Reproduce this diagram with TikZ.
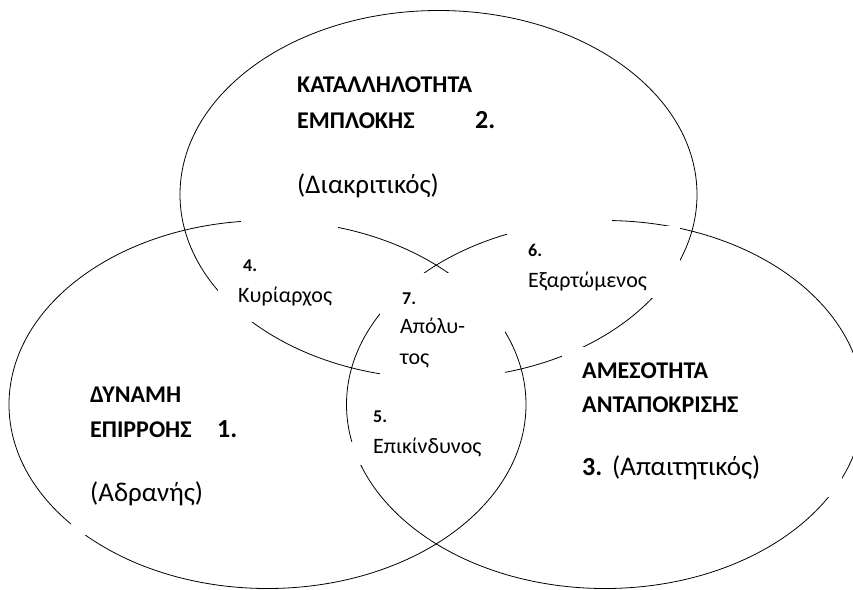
\documentclass[tikz,border=0pt]{standalone}
\usepackage{fontspec}
\setmainfont{Carlito}
\usepackage{tikz}
\usetikzlibrary{shapes}
\tikzstyle{every set}=[draw, ellipse, inner sep=0pt, minimum width=517pt, minimum height=368pt, line width=0.8pt]
\tikzstyle{title}=[anchor=base west, inner sep=0pt, font=\fontsize{24}{28}\selectfont\bfseries]
\tikzstyle{number}=[anchor=base west, inner sep=0pt, font=\fontsize{26}{30}\selectfont\bfseries]
\tikzstyle{paren}=[anchor=base west, inner sep=0pt, font=\fontsize{27}{32}\selectfont]
\tikzstyle{tag}=[anchor=base west, inner sep=0pt, font=\fontsize{18}{22}\selectfont\bfseries]
\tikzstyle{word}=[anchor=base west, inner sep=0pt, font=\fontsize{22}{26}\selectfont]
\tikzstyle{mask}=[fill=white, align=left, inner ysep=0pt]

\begin{document}
\begin{tikzpicture}[x=1pt, y=-1pt]
      \useasboundingbox (0,0) rectangle (853,589);

      \node[every set] (topSet) at (438.5,194.5) {};
      \node[every set] (leftSet) at (267.5,404.5) {};
      \node[every set] (rightSet) at (605,404.5) {};

      % set 2
      \node[title] (topName1) at (297,92) {ΚΑΤΑΛΛΗΛΟΤΗΤΑ};
      \node[title] (topName2) at (297,128) {ΕΜΠΛΟΚΗΣ};
      \node[number] (num2) at (475,128) {2.};
      \node[paren] (topType) at (297,193) {(Διακριτικός)};

      % set 1
      \node[title] (leftName1) at (90,402) {ΔΥΝΑΜΗ};
      \node[title] (leftName2) at (90,437) {ΕΠΙΡΡΟΗΣ};
      \node[number] (num1) at (217,437) {1.};
      \node[paren, mask, inner xsep=19pt, text width=130pt, text height=30pt,
        text depth=34pt] (leftType) at (71,501) {(Αδρανής)};

      % set 3
      \node[title, mask, inner xsep=20pt, text width=140pt, text height=31pt,
        text depth=10pt] (rightName1) at (562,378) {ΑΜΕΣΟΤΗΤΑ};
      \node[title] (rightName2) at (582,412) {ΑΝΤΑΠΟΚΡΙΣΗΣ};
      \node[paren, mask, text width=230pt, text height=30pt,
        text depth=22pt] (rightType) at (612,475) {(Απαιτητικός)};
      \node[number] (num3) at (582,475) {3.};

      % overlaps
      \node[tag, mask, inner xsep=2pt, text width=93pt, text height=55pt,
        text depth=4pt] (tag4) at (241,271) {4.};
      \node[word, mask, inner xsep=20pt, text width=95pt, text height=22pt,
        text depth=20pt] (dominant) at (218,302) {Κυρίαρχος};

      \node[tag, mask, inner xsep=22pt, text width=81pt, text height=31pt,
        text depth=77pt] (tag7) at (380,304) {7.};
      \node[word] (absolute1) at (400,333) {Απόλυ-};
      \node[word] (absolute2) at (400,364) {τος};

      \node[word, mask, inner xsep=12pt, text width=140pt, text height=61.5pt,
        text depth=11pt] (dependent) at (516,287) {Εξαρτώμενος};
      \node[tag, mask, inner xsep=21pt, text width=63pt, text height=37pt,
        text depth=6pt] (tag6) at (507,256) {6.};

      \node[tag] (tag5) at (373,422) {5.};
      \node[word, mask, inner xsep=23pt, text width=100pt, text height=11pt,
        text depth=12pt] (dangerous) at (350,453) {Επικίνδυνος};
\end{tikzpicture}
\end{document}
